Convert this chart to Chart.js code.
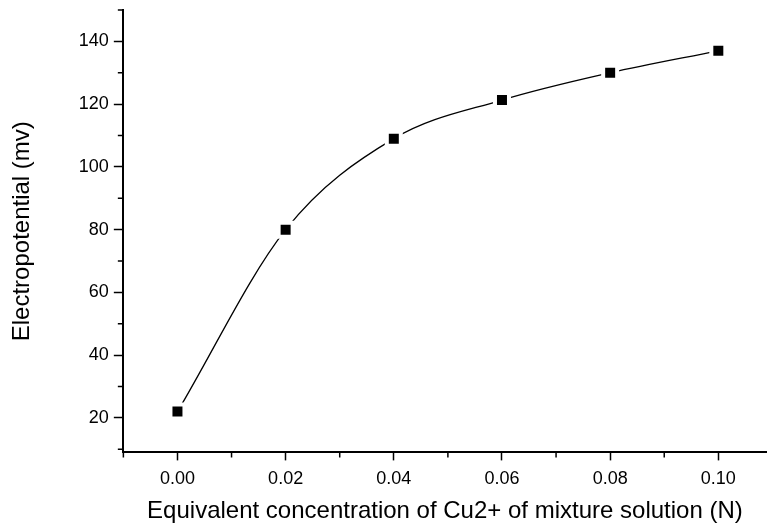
<!DOCTYPE html>
<html>
<head>
<meta charset="utf-8">
<script src="https://cdn.jsdelivr.net/npm/chart.js@4/dist/chart.umd.min.js"></script>
<style>
  html, body { margin: 0; padding: 0; background: white; }
  #wrap { width: 767px; height: 523px; }
</style>
</head>
<body>
<div id="wrap"><canvas id="myChart"></canvas></div>
<script>
// datos
const concentraciones = [0.00, 0.02, 0.04, 0.06, 0.08, 0.10]
const potenciales = [22, 80, 109, 121.3, 130, 137]
const menoresX = [-0.01, 0.01, 0.03, 0.05, 0.07, 0.09]
const menoresY = [10, 30, 50, 70, 90, 110, 130, 150]
const ejeY = "Electropotential (mv)"
const ejeX = "Equivalent concentration of Cu2+ of mixture solution (N)"

const fuente = "'Liberation Sans', Arial, sans-serif"

// marcas menores (mas cortas) dibujadas con las escalas de la grafica
const marcasMenores = {
    id: "marcasMenores",
    afterDraw(chart) {
        const ctx = chart.ctx
        const x = chart.scales.x
        const y = chart.scales.y
        ctx.save()
        ctx.strokeStyle = "black"
        ctx.lineWidth = 1.5
        ctx.beginPath()
        menoresX.forEach((v) => {
            const px = x.getPixelForValue(v)
            ctx.moveTo(px, x.top)
            ctx.lineTo(px, x.top + 5)
        })
        menoresY.forEach((v) => {
            const py = y.getPixelForValue(v)
            ctx.moveTo(y.right, py)
            ctx.lineTo(y.right - 5, py)
        })
        ctx.stroke()
        ctx.restore()
    }
}

const data = {
    datasets: [
        {
            label: "Electropotential",
            data: concentraciones.map((c, i) => ({ x: c, y: potenciales[i] })),
            borderColor: "black",
            borderWidth: 1.3,
            tension: 0.4,
            cubicInterpolationMode: "monotone",
            pointStyle: "rect",
            pointRadius: 9.9,
            pointBackgroundColor: "black",
            pointBorderColor: "white",
            pointBorderWidth: 4,
            clip: false
        }
    ]
}

const config = {
    type: "line",
    data,
    plugins: [marcasMenores],
    options: {
        responsive: false,
        animation: false,
        layout: { autoPadding: false, padding: { top: 10, right: 0, left: 8, bottom: 0 } },
        plugins: { legend: { display: false }, tooltip: { enabled: false } },
        scales: {
            x: {
                type: "linear",
                min: -0.0101,
                max: 0.109,
                border: { display: true, color: "black", width: 2 },
                grid: { drawOnChartArea: false, drawTicks: true, tickLength: 8, tickColor: "black", tickWidth: 1.5 },
                ticks: {
                    stepSize: 0.02,
                    includeBounds: false,
                    autoSkip: false,
                    maxRotation: 0,
                    color: "black",
                    padding: 8,
                    font: { family: fuente, size: 18 },
                    callback: (v) => v.toFixed(2)
                },
                title: {
                    display: true,
                    text: ejeX,
                    color: "black",
                    font: { family: fuente, size: 24, lineHeight: 1 },
                    padding: { top: 1, bottom: 0 }
                }
            },
            y: {
                min: 9,
                max: 150,
                border: { display: true, color: "black", width: 2 },
                grid: { drawOnChartArea: false, drawTicks: true, tickLength: 9, tickColor: "black", tickWidth: 1.5 },
                ticks: {
                    stepSize: 20,
                    includeBounds: false,
                    autoSkip: false,
                    color: "black",
                    padding: 5,
                    font: { family: fuente, size: 18 },
                    callback: (v) => String(Math.round(v))
                },
                title: {
                    display: true,
                    text: ejeY,
                    color: "black",
                    font: { family: fuente, size: 24 },
                    padding: { top: 0, bottom: 37 }
                },
                afterFit: (escala) => {
                    escala.paddingTop = 0
                    escala.paddingBottom = 0
                }
            }
        }
    }
}

const myChart = document.getElementById("myChart")
myChart.width = 767
myChart.height = 523
myChart.style.backgroundColor = "white"
new Chart(myChart, config)
</script>
</body>
</html>
